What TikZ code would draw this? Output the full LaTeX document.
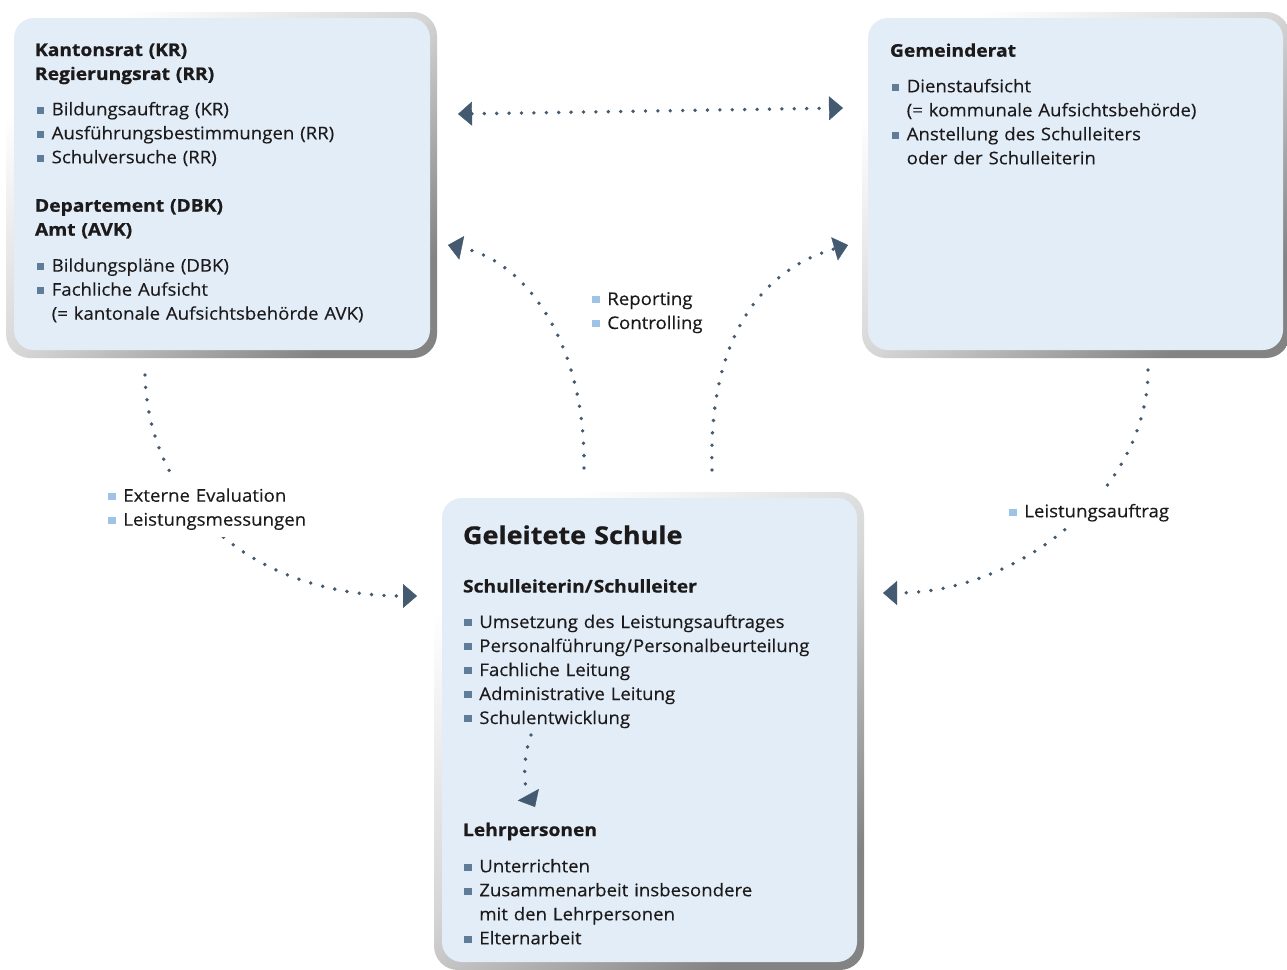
\documentclass[tikz,border=0pt]{standalone}
\usepackage{fontspec}
\setmainfont{Open Sans}[FakeStretch=1.065, FakeBold=0.25,
  BoldFeatures={FakeStretch=1.1, FakeBold=0.8}]
\usetikzlibrary{arrows.meta}

\definecolor{panelc}{HTML}{E3EDF7}
\definecolor{flowc}{HTML}{445A70}
\definecolor{bulin}{HTML}{5F7C99}
\definecolor{bulout}{HTML}{9DC3E6}
\definecolor{txtc}{HTML}{1C1A1B}
\definecolor{rimlo}{HTML}{FFFFFF}
\definecolor{rimmid}{HTML}{D6D6D6}
\definecolor{rimhi}{HTML}{838383}

\newcommand\BodyFnt{\fontsize{17.5pt}{24pt}\selectfont}
\newcommand\TitleFnt{\fontsize{24.5pt}{30pt}\selectfont\bfseries}
\newcommand\Sq[1]{\makebox[15pt][l]{\textcolor{#1}{\rule[1.8pt]{7.5pt}{6.9pt}}}}
\newcommand\Ind{\hspace*{15pt}}

\begin{document}
\begin{tikzpicture}[x=1pt,y=-1pt,
  rim/.style={rounded corners=24pt, inner sep=0pt, outer sep=0pt,
    top color=rimlo, bottom color=rimhi, middle color=rimmid, shading angle=40},
  panel/.style={rounded corners=20pt, fill=panelc, inner sep=0pt, outer sep=0pt},
  flow/.style={draw=flowc, line width=3.8pt, line cap=round,
    dash pattern=on 0pt off 12.4pt},
  >={Triangle[length=14pt,width=24pt,line width=0.4pt]},
  txt/.style={anchor=base west, inner sep=0pt, outer sep=0pt, text width=#1,
    align=left, font=\BodyFnt, text=txtc},
  head/.style={txt=#1, font=\BodyFnt\bfseries},
  label/.style={txt=#1, fill=white, inner xsep=8pt, text height=24pt}]

\path[use as bounding box, fill=white] (0,0) rectangle (1287,969);

% three framed panels
\node[rim, minimum width=431pt, minimum height=346pt] (krrim) at (221.5,185) {};
\node[panel, minimum width=416pt, minimum height=332pt] (kr) at (222,184) {};
\node[rim, minimum width=428pt, minimum height=346pt] (grrim) at (1076,185) {};
\node[panel, minimum width=415pt, minimum height=332pt] (gr) at (1075.5,184) {};
\node[rim, minimum width=430pt, minimum height=478pt] (gsrim) at (649,731) {};
\node[panel, minimum width=415pt, minimum height=464pt] (gs) at (649.5,730) {};

% connector end points
\coordinate (krSide) at (458,114);
\coordinate (grSide) at (843,108);
\coordinate (krOut) at (145,375);
\coordinate (gsInL) at (417,596);
\coordinate (grOut) at (1148,370);
\coordinate (gsInR) at (883,593);
\coordinate (gsUpL) at (584,468);
\coordinate (krIn) at (448,245);
\coordinate (gsUpR) at (712,470);
\coordinate (grIn) at (848,245);
\coordinate (slOut) at (531,735);
\coordinate (lpIn) at (535,807);

% dotted connectors
\draw[flow,<->] (krSide) -- (grSide);
\draw[flow,->] (krOut) .. controls (148,500) and (250,596) .. (gsInL);
\draw[flow,->] (grOut) .. controls (1148,490) and (1020,593) .. (gsInR);
\draw[flow,->] (gsUpL) .. controls (586,350) and (530,262) .. (krIn);
\draw[flow,->] (gsUpR) .. controls (708,340) and (760,270) .. (grIn);
\draw[flow,->] (slOut) .. controls (523,757) and (523,785) .. (lpIn);

% Kanton
\node[head=390pt] (krhead) at (35,56) {Kantonsrat (KR)\\Regierungsrat (RR)};
\node[txt=390pt] (krlist) at (36.7,115.3) {\Sq{bulin}Bildungsauftrag (KR)\\
  \Sq{bulin}Ausführungsbestimmungen (RR)\\\Sq{bulin}Schulversuche (RR)};
\node[head=390pt] (dbkhead) at (35,211.7) {Departement (DBK)\\Amt (AVK)};
\node[txt=390pt] (dbklist) at (36.7,271.7) {\Sq{bulin}Bildungspläne (DBK)\\
  \Sq{bulin}Fachliche Aufsicht\\\Ind(= kantonale Aufsichtsbehörde AVK)};

% Gemeinde
\node[head=360pt] (grhead) at (890,56.7) {Gemeinderat};
\node[txt=360pt] (grlist) at (891.7,92.3) {\Sq{bulin}Dienstaufsicht\\
  \Ind(= kommunale Aufsichtsbehörde)\\\Sq{bulin}Anstellung des Schulleiters\\
  \Ind oder der Schulleiterin};

% Schule
\node[txt=390pt, font=\TitleFnt] (gstitle) at (463,544) {Geleitete Schule};
\node[head=390pt] (slhead) at (463,592.5) {Schulleiterin/\kern1pt Schulleiter};
\node[txt=390pt] (sllist) at (464.3,628) {\Sq{bulin}Umsetzung des Leistungsauftrages\\
  \Sq{bulin}Personalführung/\kern1pt Personalbeurteilung\\\Sq{bulin}Fachliche Leitung\\
  \Sq{bulin}Administrative Leitung\\\Sq{bulin}Schulentwicklung};
\node[head=390pt] (lphead) at (463,836) {Lehrpersonen};
\node[txt=390pt] (lplist) at (464.3,872.3) {\Sq{bulin}Unterrichten\\
  \Sq{bulin}Zusammenarbeit insbesondere\\\Ind mit den Lehrpersonen\\
  \Sq{bulin}Elternarbeit};

% connector labels
\node[txt=130pt] (replabel) at (592.3,305) {\Sq{bulout}Reporting\\\Sq{bulout}Controlling};
\node[label=200pt, text depth=35pt] (evallabel) at (100.3,501.7)
  {\Sq{bulout}Externe Evaluation\\\Sq{bulout}Leistungsmessungen};
\node[label=140pt, text depth=11pt] (lalabel) at (1001.3,517.3) {\Sq{bulout}Leistungsauftrag};
\end{tikzpicture}
\end{document}
